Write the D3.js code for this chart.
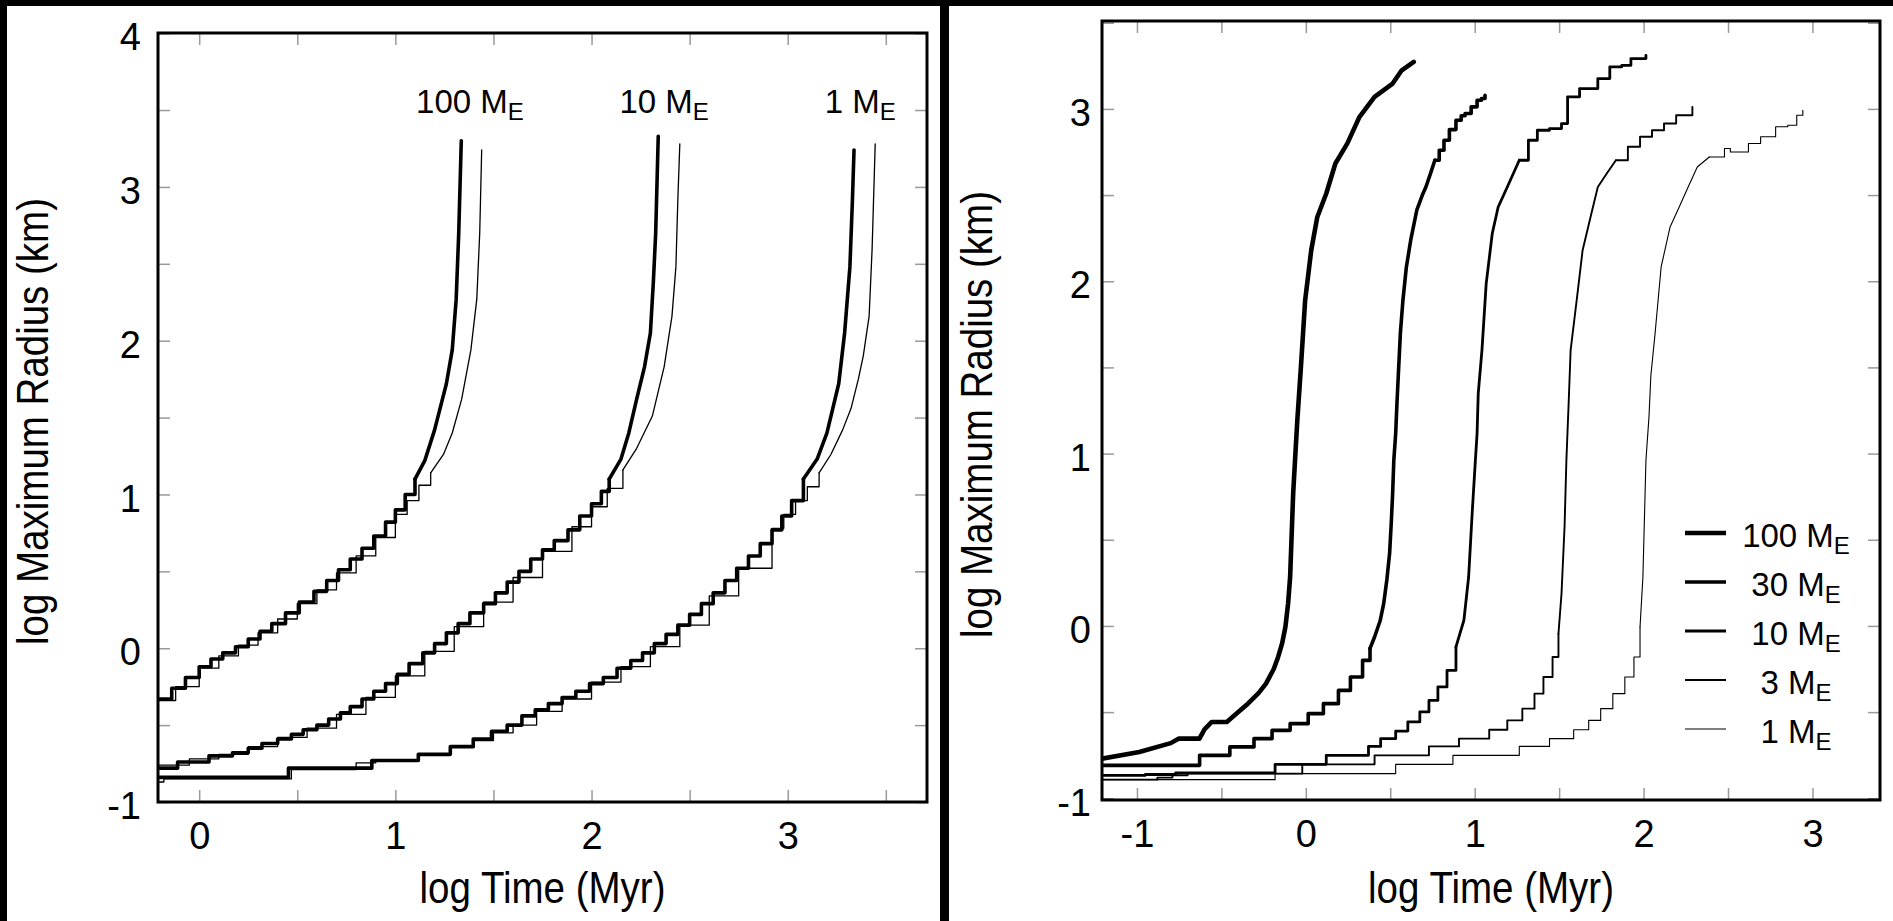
<!DOCTYPE html>
<html>
<head>
<meta charset="utf-8">
<script src="https://cdnjs.cloudflare.com/ajax/libs/d3/7.8.5/d3.min.js"></script>
<style>
	body { margin: 0; background: #000; }
	svg { display: block; }
	text { font-family: "Liberation Sans", Arial, Helvetica, sans-serif; fill: #000; }
</style>
</head>
<body>
<svg id="chart" width="1893" height="921"></svg>
<script>
// log time (Myr), log max radius (km) pairs
// left panel: thick and thin run for each disk mass
var LEFT_MASSES = ["100", "10", "1"];
var LEFT_LABEL_X = [1.38, 2.37, 3.37];
var LEFT_LABEL_Y = 3.48;

var L100_THICK = [[-0.21,-0.33],[-0.14,-0.26],[-0.07,-0.19],[0,-0.12],[0.06,-0.07],[0.12,-0.03],[0.185,0.01],[0.25,0.06],[0.31,0.11],[0.37,0.16],[0.44,0.23],[0.51,0.3],[0.585,0.37],[0.65,0.44],[0.71,0.51],[0.77,0.58],[0.83,0.65],[0.89,0.73],[0.95,0.82],[1.0,0.9],[1.05,1.0],[1.1,1.1],[1.15,1.22],[1.2,1.42],[1.24,1.62],[1.26,1.72],[1.29,1.94],[1.31,2.27],[1.323,2.7],[1.336,3.3]];
var L100_THIN = [[-0.21,-0.34],[-0.12,-0.25],[0,-0.13],[0.1,-0.05],[0.2,0.02],[0.3,0.1],[0.4,0.19],[0.5,0.29],[0.6,0.38],[0.7,0.49],[0.8,0.6],[0.9,0.72],[1.0,0.87],[1.06,0.96],[1.12,1.06],[1.18,1.14],[1.245,1.26],[1.29,1.4],[1.338,1.62],[1.385,1.94],[1.415,2.27],[1.43,2.7],[1.44,3.24]];
var L10_THICK = [[-0.21,-0.78],[-0.11,-0.74],[0.05,-0.7],[0.17,-0.68],[0.25,-0.65],[0.32,-0.62],[0.4,-0.59],[0.47,-0.56],[0.53,-0.53],[0.6,-0.5],[0.66,-0.46],[0.72,-0.42],[0.77,-0.38],[0.83,-0.33],[0.89,-0.28],[0.95,-0.23],[1.01,-0.17],[1.07,-0.1],[1.14,-0.03],[1.2,0.03],[1.26,0.1],[1.32,0.16],[1.38,0.23],[1.45,0.29],[1.51,0.36],[1.57,0.43],[1.63,0.5],[1.69,0.58],[1.75,0.64],[1.81,0.7],[1.88,0.77],[1.94,0.86],[2.0,0.94],[2.05,1.02],[2.09,1.1],[2.15,1.23],[2.19,1.4],[2.23,1.62],[2.27,1.83],[2.3,2.05],[2.315,2.38],[2.327,2.7],[2.34,3.33]];
var L10_THIN = [[-0.21,-0.76],[-0.05,-0.72],[0.1,-0.69],[0.25,-0.64],[0.4,-0.58],[0.55,-0.52],[0.7,-0.43],[0.85,-0.32],[1.0,-0.18],[1.15,-0.02],[1.3,0.14],[1.45,0.3],[1.6,0.46],[1.75,0.63],[1.9,0.79],[2.0,0.92],[2.08,1.04],[2.16,1.16],[2.23,1.3],[2.31,1.51],[2.37,1.83],[2.41,2.16],[2.43,2.48],[2.44,2.92],[2.45,3.28]];
var L1_THICK = [[-0.21,-0.84],[0.455,-0.78],[0.88,-0.73],[1.117,-0.69],[1.28,-0.64],[1.397,-0.59],[1.49,-0.54],[1.57,-0.5],[1.645,-0.44],[1.713,-0.4],[1.78,-0.36],[1.85,-0.32],[1.92,-0.28],[1.99,-0.23],[2.06,-0.19],[2.13,-0.13],[2.2,-0.08],[2.26,-0.03],[2.32,0.03],[2.38,0.09],[2.44,0.15],[2.5,0.22],[2.56,0.29],[2.62,0.36],[2.68,0.44],[2.74,0.52],[2.8,0.6],[2.86,0.68],[2.92,0.77],[2.97,0.86],[3.02,0.96],[3.08,1.1],[3.15,1.23],[3.2,1.4],[3.26,1.72],[3.29,2.05],[3.317,2.48],[3.33,2.92],[3.338,3.24]];
var L1_THIN = [[-0.21,-0.87],[-0.18,-0.85],[0.47,-0.79],[0.8,-0.745],[0.9,-0.73],[1.12,-0.69],[1.28,-0.645],[1.4,-0.6],[1.5,-0.55],[1.6,-0.5],[1.72,-0.41],[1.85,-0.33],[2.0,-0.22],[2.15,-0.12],[2.3,0.01],[2.45,0.15],[2.6,0.34],[2.75,0.52],[2.92,0.78],[2.98,0.87],[3.04,0.96],[3.1,1.05],[3.16,1.14],[3.22,1.26],[3.28,1.42],[3.323,1.56],[3.36,1.75],[3.385,1.9],[3.415,2.16],[3.43,2.59],[3.446,3.28]];

// right panel: one run per disk mass
var RIGHT_MASSES = ["100", "30", "10", "3", "1"];

var R100 = [[-1.207,-0.77],[-0.986,-0.731],[-0.8,-0.68],[-0.754,-0.654],[-0.63,-0.654],[-0.6,-0.6],[-0.557,-0.557],[-0.468,-0.557],[-0.4,-0.5],[-0.343,-0.451],[-0.28,-0.39],[-0.236,-0.335],[-0.19,-0.25],[-0.164,-0.18],[-0.14,-0.1],[-0.121,-0.006],[-0.105,0.13],[-0.093,0.284],[-0.075,0.768],[-0.064,0.961],[-0.05,1.2],[-0.029,1.503],[-0.004,1.89],[0.032,2.18],[0.068,2.373],[0.121,2.509],[0.175,2.683],[0.246,2.8],[0.318,2.954],[0.407,3.07],[0.514,3.147],[0.568,3.224],[0.639,3.273]];
var R30 = [[-1.207,-0.809],[-0.629,-0.751],[-0.45,-0.702],[-0.307,-0.654],[-0.2,-0.606],[-0.093,-0.567],[0.014,-0.509],[0.104,-0.451],[0.193,-0.374],[0.264,-0.296],[0.336,-0.2],[0.38,-0.13],[0.407,-0.064],[0.44,0.03],[0.461,0.129],[0.48,0.27],[0.496,0.42],[0.506,0.6],[0.514,0.768],[0.521,0.961],[0.532,1.116],[0.54,1.3],[0.55,1.503],[0.56,1.7],[0.575,1.89],[0.595,2.08],[0.621,2.238],[0.657,2.412],[0.69,2.5],[0.711,2.547],[0.74,2.63],[0.764,2.702],[0.79,2.76],[0.818,2.818],[0.85,2.88],[0.889,2.934],[0.92,2.96],[0.943,2.973],[0.979,3.012],[1.014,3.05],[1.04,3.06],[1.061,3.079]];
var R10 = [[-1.207,-0.867],[-0.95,-0.862],[-0.771,-0.853],[-0.182,-0.803],[0.121,-0.751],[0.371,-0.699],[0.443,-0.654],[0.532,-0.61],[0.604,-0.557],[0.675,-0.499],[0.729,-0.432],[0.782,-0.354],[0.836,-0.258],[0.889,-0.122],[0.936,0.033],[0.964,0.284],[0.986,0.671],[1.004,0.961],[1.014,1.116],[1.021,1.35],[1.043,1.6],[1.068,1.986],[1.104,2.277],[1.139,2.431],[1.193,2.547],[1.264,2.702],[1.318,2.818],[1.371,2.876],[1.443,2.886],[1.514,2.915],[1.55,3.07],[1.621,3.118],[1.729,3.176],[1.8,3.244],[1.871,3.253],[1.925,3.292],[2.014,3.311]];
var R3 = [[-1.207,-0.892],[-0.879,-0.88],[-0.79,-0.866],[-0.7,-0.857],[-0.021,-0.803],[0.407,-0.751],[0.729,-0.699],[0.907,-0.654],[1.086,-0.602],[1.193,-0.548],[1.282,-0.48],[1.354,-0.393],[1.407,-0.296],[1.461,-0.18],[1.496,-0.045],[1.514,0.187],[1.532,0.574],[1.543,0.961],[1.557,1.31],[1.568,1.6],[1.604,1.89],[1.639,2.18],[1.686,2.373],[1.729,2.547],[1.782,2.625],[1.836,2.702],[1.907,2.78],[1.979,2.838],[2.05,2.876],[2.121,2.915],[2.193,2.963],[2.289,3.012]];
var R1 = [[-1.207,-0.892],[-0.182,-0.857],[0.532,-0.803],[0.871,-0.751],[1.264,-0.699],[1.443,-0.654],[1.586,-0.602],[1.675,-0.548],[1.746,-0.48],[1.818,-0.393],[1.889,-0.296],[1.943,-0.18],[1.979,-0.006],[1.996,0.284],[2.014,0.961],[2.032,1.213],[2.043,1.45],[2.068,1.696],[2.104,2.083],[2.157,2.315],[2.211,2.431],[2.264,2.547],[2.318,2.663],[2.389,2.721],[2.479,2.77],[2.514,2.75],[2.621,2.799],[2.693,2.838],[2.782,2.896],[2.854,2.905],[2.907,2.963],[2.943,2.992]];

var X_TITLE = "log Time (Myr)";
var Y_TITLE = "log Maximum Radius (km)";

function Panel(cfg) {

	this.initVis = function() {
		var vis = this;

		vis.svg = d3.select("#chart");

		// white sheet behind each figure
		vis.svg.append("rect")
			.attr("x", cfg.sheet[0])
			.attr("y", cfg.sheet[1])
			.attr("width", cfg.sheet[2])
			.attr("height", cfg.sheet[3])
			.attr("fill", "#fff");

		vis.x = d3.scaleLinear().domain(cfg.xDomain).range([cfg.left, cfg.right]);
		vis.y = d3.scaleLinear().domain(cfg.yDomain).range([cfg.bottom, cfg.top]);

		vis.g = vis.svg.append("g");

		vis.g.append("clipPath")
			.attr("id", "clip-" + cfg.name)
			.append("rect")
			.attr("x", cfg.left)
			.attr("y", cfg.top)
			.attr("width", cfg.right - cfg.left)
			.attr("height", cfg.bottom - cfg.top);

		vis.drawAxes();
		vis.drawCurves();

		// frame on top of everything
		vis.g.append("rect")
			.attr("x", cfg.left)
			.attr("y", cfg.top)
			.attr("width", cfg.right - cfg.left)
			.attr("height", cfg.bottom - cfg.top)
			.attr("fill", "none")
			.attr("stroke", "#000")
			.attr("stroke-width", 3);
	}

	this.drawAxes = function() {
		var vis = this;

		var xTicks = d3.range(cfg.xTickStart, cfg.xDomain[1], 0.5);
		var yTicks = d3.range(-1, cfg.yDomain[1], 0.5);
		var label = function(d) { return Number.isInteger(d) ? d : ""; };

		var bottom = vis.g.append("g")
			.attr("transform", "translate(0," + cfg.bottom + ")")
			.call(d3.axisBottom(vis.x).tickValues(xTicks).tickSize(-12).tickPadding(20).tickFormat(label));
		var left = vis.g.append("g")
			.attr("transform", "translate(" + cfg.left + ",0)")
			.call(d3.axisLeft(vis.y).tickValues(yTicks).tickSize(-12).tickPadding(cfg.yPad).tickFormat(label));
		var top = vis.g.append("g")
			.attr("transform", "translate(0," + cfg.top + ")")
			.call(d3.axisTop(vis.x).tickValues(xTicks).tickSize(-12).tickFormat(""));
		var right = vis.g.append("g")
			.attr("transform", "translate(" + cfg.right + ",0)")
			.call(d3.axisRight(vis.y).tickValues(yTicks).tickSize(-12).tickFormat(""));

		[bottom, left, top, right].forEach(function(a) {
			a.attr("font-family", null).attr("font-size", null);
			a.select(".domain").remove();
			a.selectAll(".tick line").attr("stroke", "#9a9a9a").attr("stroke-width", 1.5);
			a.selectAll(".tick text").style("font-size", "38px");
		});
		left.selectAll(".tick text").attr("dy", "0.44em");

		// axis titles, squeezed sideways like the scanned figure
		vis.g.append("text")
			.attr("transform", "translate(" + ((cfg.left + cfg.right) / 2) + ",903) scale(0.875,1)")
			.attr("text-anchor", "middle")
			.style("font-size", "44px")
			.text(X_TITLE);

		vis.g.append("text")
			.attr("transform", "translate(" + (cfg.left - 110) + "," + ((cfg.top + cfg.bottom) / 2 + 4) + ") rotate(-90) scale(0.875,1)")
			.attr("text-anchor", "middle")
			.style("font-size", "44px")
			.text(Y_TITLE);
	}

	this.drawCurves = function() {
		var vis = this;

		var plot = vis.g.append("g")
			.attr("clip-path", "url(#clip-" + cfg.name + ")");

		var stepped = d3.line()
			.x(function(d) { return vis.x(d[0]); })
			.y(function(d) { return vis.y(d[1]); })
			.curve(d3.curveStepAfter);
		var smooth = d3.line()
			.x(function(d) { return vis.x(d[0]); })
			.y(function(d) { return vis.y(d[1]); });

		cfg.series.forEach(function(s) {
			// staircase while the radius is small and again near the top,
			// plain line through the runaway part
			var n = s.data.length - 1;
			var k1 = s.data.findIndex(function(d) { return d[1] >= s.stepBelow; });
			var k2 = s.data.findIndex(function(d) { return d[1] >= s.stepAbove; });
			if (k1 < 0) k1 = n;
			if (k2 < 0 || k2 < k1) k2 = n;
			var parts = [
				{ d: s.data.slice(0, k1 + 1), line: stepped },
				{ d: s.data.slice(k1, k2 + 1), line: smooth },
				{ d: s.data.slice(k2), line: stepped }
			];
			parts.forEach(function(p) {
				if (p.d.length < 2) return;
				plot.append("path")
					.datum(p.d)
					.attr("d", p.line)
					.attr("fill", "none")
					.attr("stroke", "#000")
					.attr("stroke-width", s.width)
					.attr("stroke-linejoin", "round")
					.attr("stroke-linecap", "round");
			});
		});
	}
}

// mass label with subscript E
function massText(sel, mass) {
	sel.text(mass + " M")
		.append("tspan")
		.attr("dy", 7)
		.style("font-size", "24px")
		.text("E");
}

var leftPanel = new Panel({
	name: "left",
	sheet: [7, 6, 933, 915],
	left: 158, right: 927, top: 33, bottom: 802,
	xDomain: [-0.21, 3.71], yDomain: [-1, 4.001],
	xTickStart: 0, yPad: 17,
	series: [
		{ data: L100_THIN, width: 1.3, stepBelow: 1.1, stepAbove: 9 },
		{ data: L10_THIN, width: 1.3, stepBelow: 1.1, stepAbove: 9 },
		{ data: L1_THIN, width: 1.3, stepBelow: 1.1, stepAbove: 9 },
		{ data: L100_THICK, width: 3.6, stepBelow: 1.1, stepAbove: 9 },
		{ data: L10_THICK, width: 3.6, stepBelow: 1.1, stepAbove: 9 },
		{ data: L1_THICK, width: 3.6, stepBelow: 1.1, stepAbove: 9 }
	]
});
leftPanel.initVis();

var RIGHT_WIDTHS = [4.6, 3.6, 2.8, 1.9, 1.1];

var rightPanel = new Panel({
	name: "right",
	sheet: [949, 6, 944, 915],
	left: 1102, right: 1880, top: 21, bottom: 800,
	xDomain: [-1.207, 3.40], yDomain: [-1.01, 3.51],
	xTickStart: -1, yPad: 11,
	series: [
		{ data: R100, width: RIGHT_WIDTHS[0], stepBelow: -2, stepAbove: 9 },
		{ data: R30, width: RIGHT_WIDTHS[1], stepBelow: -0.15, stepAbove: 2.7 },
		{ data: R10, width: RIGHT_WIDTHS[2], stepBelow: -0.15, stepAbove: 2.7 },
		{ data: R3, width: RIGHT_WIDTHS[3], stepBelow: -0.15, stepAbove: 2.7 },
		{ data: R1, width: RIGHT_WIDTHS[4], stepBelow: -0.15, stepAbove: 2.7 }
	]
});
rightPanel.initVis();

// labels over the left curves
LEFT_MASSES.forEach(function(m, i) {
	leftPanel.g.append("text")
		.attr("x", leftPanel.x(LEFT_LABEL_X[i]))
		.attr("y", leftPanel.y(LEFT_LABEL_Y))
		.attr("text-anchor", "middle")
		.style("font-size", "33px")
		.call(massText, m);
});

// legend in the right panel
var legend = rightPanel.g.append("g");
RIGHT_MASSES.forEach(function(m, i) {
	var ly = 533 + i * 49;
	legend.append("line")
		.attr("x1", 1685).attr("x2", 1726)
		.attr("y1", ly).attr("y2", ly)
		.attr("stroke", "#000")
		.attr("stroke-width", RIGHT_WIDTHS[i]);
	legend.append("text")
		.attr("x", 1796)
		.attr("y", ly + 14)
		.attr("text-anchor", "middle")
		.style("font-size", "33px")
		.call(massText, m);
});
</script>
</body>
</html>
